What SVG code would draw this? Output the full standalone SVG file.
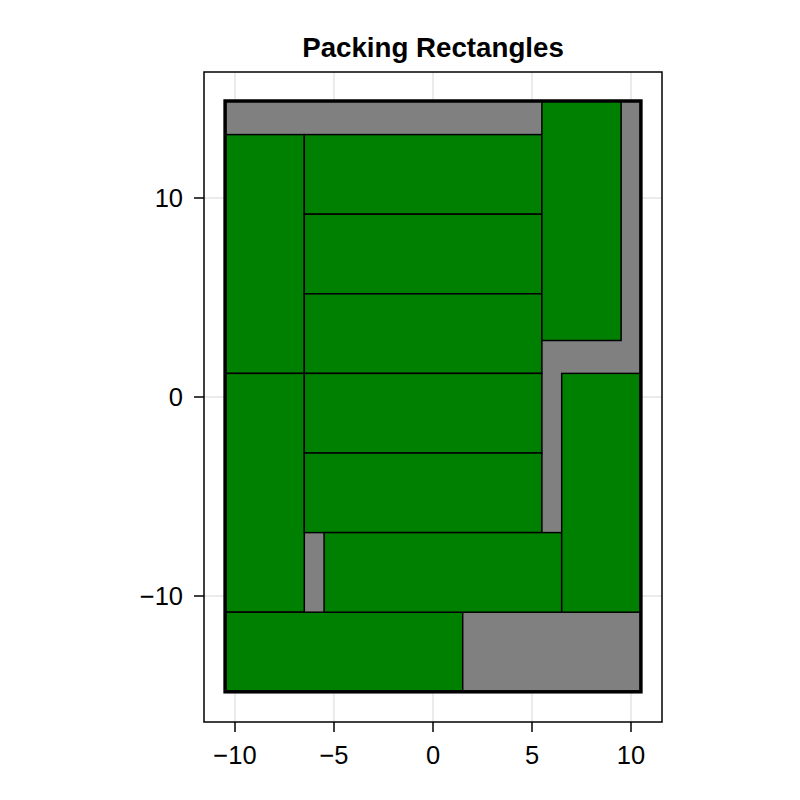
<svg xmlns="http://www.w3.org/2000/svg" width="800" height="800" viewBox="0 0 800 800">
<style>
.grid{stroke:#e5e5e5;stroke-width:1.5}
.tick{stroke:#000;stroke-width:1.5}
.lbl{font-family:"Liberation Sans",Arial,sans-serif;font-size:25.5px;fill:#000}
.title{font-family:"Liberation Sans",Arial,sans-serif;font-size:27.7px;font-weight:bold;fill:#000}
.g{fill:#008000;stroke:#000;stroke-width:1.5}
</style>
<rect width="800" height="800" fill="#fff"/>
<text class="title" x="433" y="57" text-anchor="middle">Packing Rectangles</text>
<g id="grid">
<line class="grid" x1="235" y1="72" x2="235" y2="722"/>
<line class="grid" x1="334" y1="72" x2="334" y2="722"/>
<line class="grid" x1="433" y1="72" x2="433" y2="722"/>
<line class="grid" x1="532" y1="72" x2="532" y2="722"/>
<line class="grid" x1="631" y1="72" x2="631" y2="722"/>
<line class="grid" x1="204" y1="198" x2="662" y2="198"/>
<line class="grid" x1="204" y1="397" x2="662" y2="397"/>
<line class="grid" x1="204" y1="596" x2="662" y2="596"/>
</g>
<g id="container">
<rect x="225.1" y="101" width="415.8" height="590.8" fill="#808080"/>
</g>
<g id="rects">
<rect id="r1" class="g" x="225.1" y="134.6" width="79.2" height="238.8"/>
<rect id="r2" class="g" x="225.1" y="373.4" width="79.2" height="238.8"/>
<rect id="r3" class="g" x="225.1" y="612.2" width="237.6" height="79.6"/>
<rect id="r4" class="g" x="304.3" y="134.6" width="237.6" height="79.6"/>
<rect id="r5" class="g" x="304.3" y="214.2" width="237.6" height="79.6"/>
<rect id="r6" class="g" x="304.3" y="293.8" width="237.6" height="79.6"/>
<rect id="r7" class="g" x="304.3" y="373.4" width="237.6" height="79.6"/>
<rect id="r8" class="g" x="304.3" y="453" width="237.6" height="79.6"/>
<rect id="r9" class="g" x="324.1" y="532.6" width="237.6" height="79.6"/>
<rect id="r10" class="g" x="541.9" y="101" width="79.2" height="239.5"/>
<rect id="r11" class="g" x="561.7" y="373.4" width="79.2" height="238.8"/>
</g>
<rect x="225.1" y="101" width="415.8" height="590.8" fill="none" stroke="#000" stroke-width="3.5"/>
<g id="axes">
<rect x="204" y="72" width="458" height="650" fill="none" stroke="#000" stroke-width="1.5"/>
<line class="tick" x1="235" y1="722" x2="235" y2="732"/>
<line class="tick" x1="334" y1="722" x2="334" y2="732"/>
<line class="tick" x1="433" y1="722" x2="433" y2="732"/>
<line class="tick" x1="532" y1="722" x2="532" y2="732"/>
<line class="tick" x1="631" y1="722" x2="631" y2="732"/>
<line class="tick" x1="194" y1="198" x2="204" y2="198"/>
<line class="tick" x1="194" y1="397" x2="204" y2="397"/>
<line class="tick" x1="194" y1="596" x2="204" y2="596"/>
<text class="lbl" x="235" y="764" text-anchor="middle">−10</text>
<text class="lbl" x="334" y="764" text-anchor="middle">−5</text>
<text class="lbl" x="433" y="764" text-anchor="middle">0</text>
<text class="lbl" x="532" y="764" text-anchor="middle">5</text>
<text class="lbl" x="631" y="764" text-anchor="middle">10</text>
<text class="lbl" x="183" y="207" text-anchor="end">10</text>
<text class="lbl" x="183" y="406" text-anchor="end">0</text>
<text class="lbl" x="183" y="605" text-anchor="end">−10</text>
</g>
</svg>
